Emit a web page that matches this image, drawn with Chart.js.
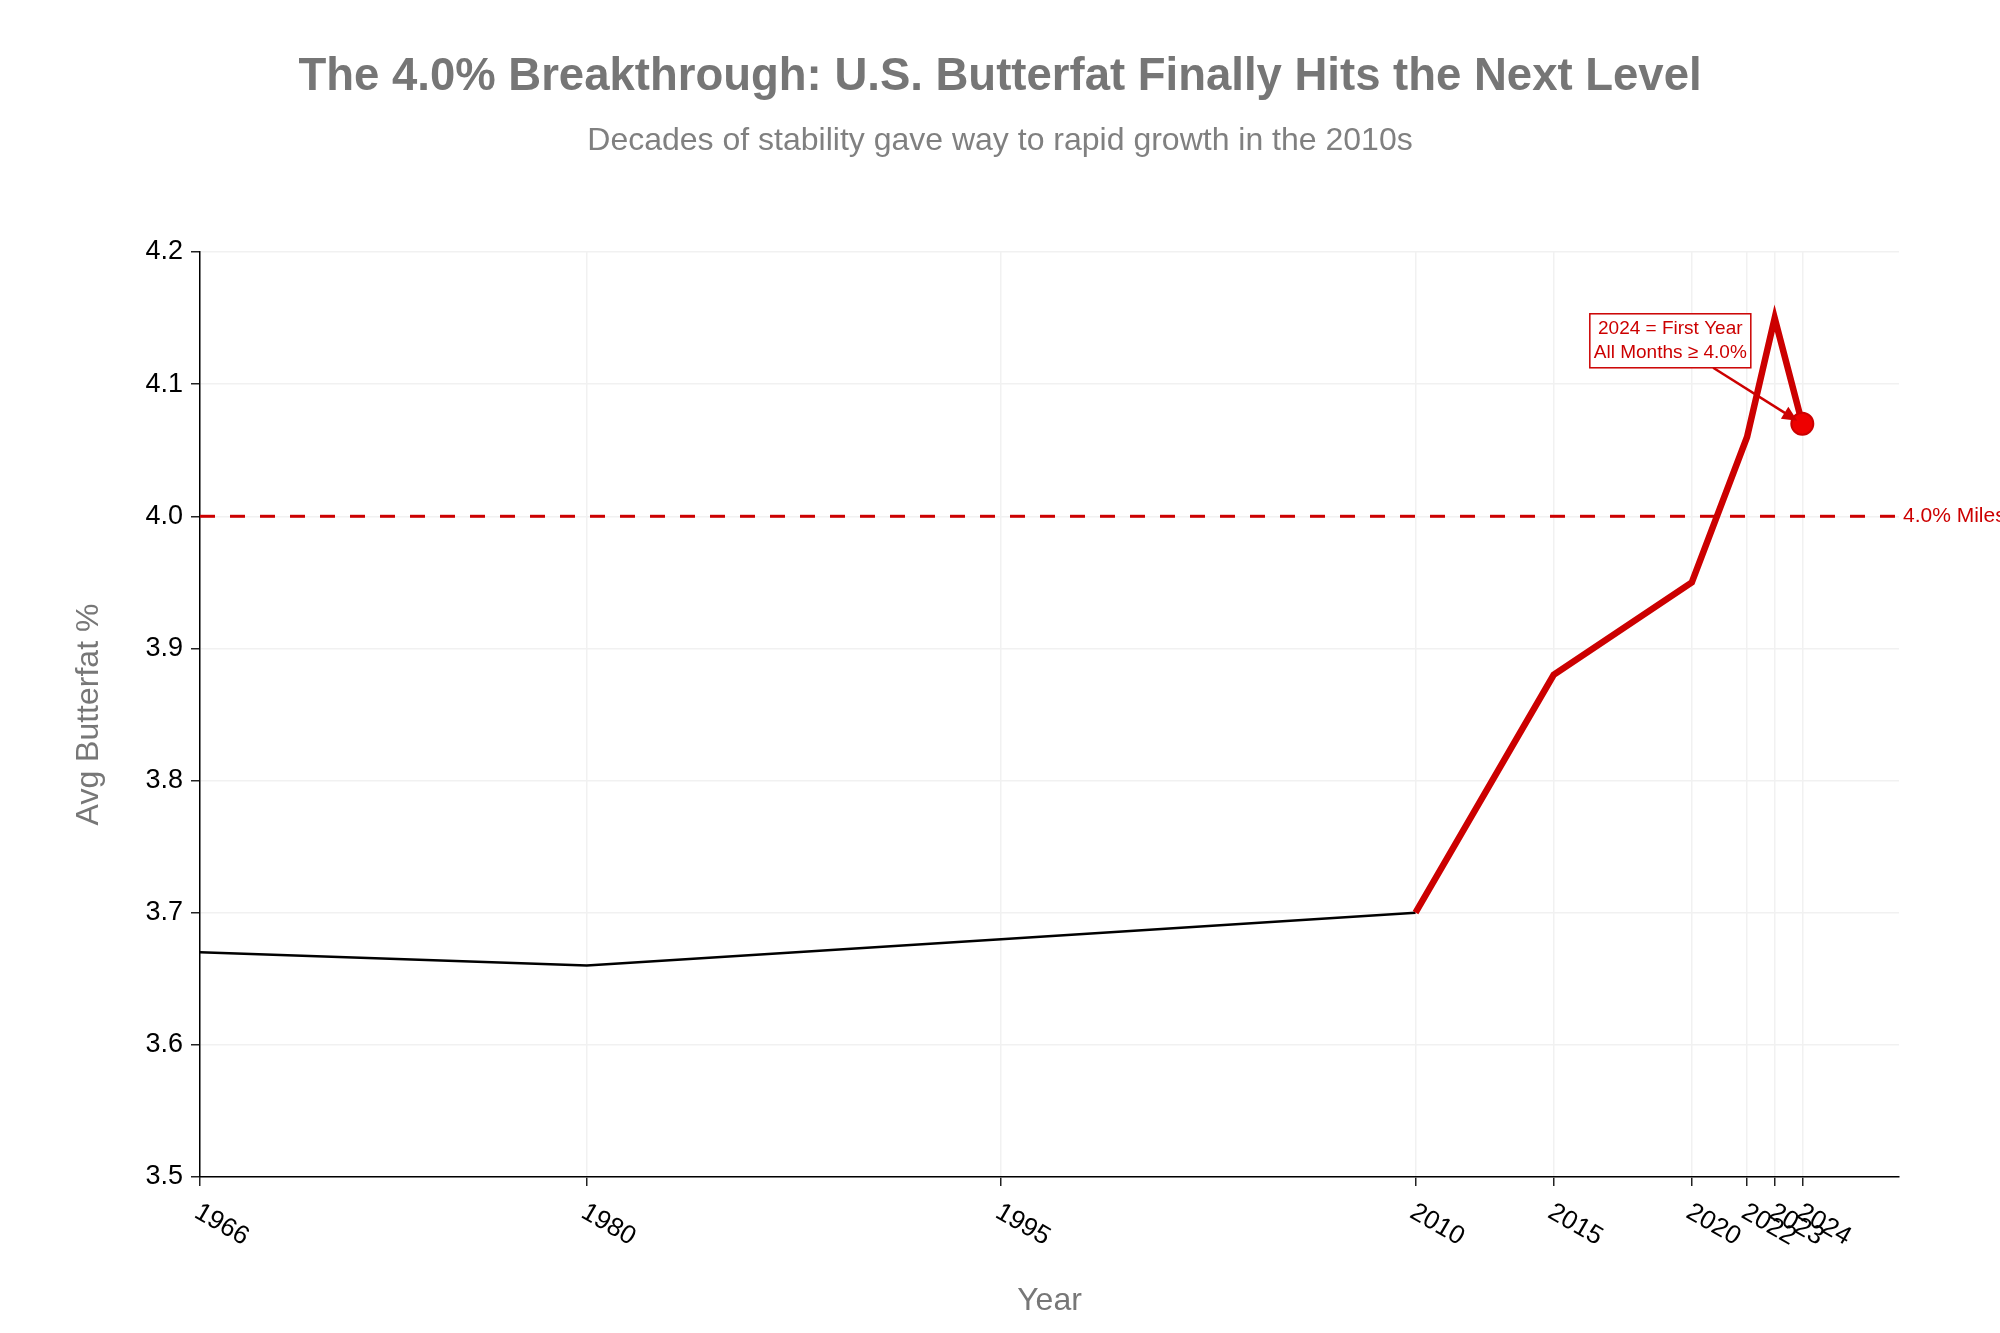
<!DOCTYPE html>
<html>
<head>
<meta charset="utf-8">
<script src="https://cdn.jsdelivr.net/npm/chart.js@4.4.1/dist/chart.umd.min.js"></script>
<style>
  html, body { margin: 0; padding: 0; background: #fff; }
  #chart { display: block; }
</style>
</head>
<body>
<canvas id="chart" width="2000" height="1333"></canvas>
<script>
// historical years (thin black line)
const histYears = [1966, 1980, 1995, 2010];
const histFat = [3.67, 3.66, 3.68, 3.70];
// recent years (thick red line)
const recentYears = [2010, 2015, 2020, 2022, 2023, 2024];
const recentFat = [3.70, 3.88, 3.95, 4.06, 4.15, 4.07];
// highlighted year
const highlightYear = 2024;
const highlightFat = 4.07;
// axis ticks
const xTicks = [1966, 1980, 1995, 2010, 2015, 2020, 2022, 2023, 2024];
const yTicks = [3.5, 3.6, 3.7, 3.8, 3.9, 4.0, 4.1, 4.2];
const milestone = 4.0;
const milestoneLabel = '4.0% Milestone';
const noteLines = ['2024 = First Year', 'All Months \u2265 4.0%'];
const titleText = 'The 4.0% Breakthrough: U.S. Butterfat Finally Hits the Next Level';
const subtitleText = 'Decades of stability gave way to rapid growth in the 2010s';

const FONT = '"Liberation Sans", Arial, Helvetica, sans-serif';
const RED = '#cc0000';

function pairs(xs, ys) {
    let out = [];
    for (let i in xs) out.push({x: xs[i], y: ys[i]});
    return out;
}

// title + subtitle centred on the whole canvas
const headerPlugin = {
    id: 'header',
    afterDraw(chart) {
        const ctx = chart.ctx;
        const cx = chart.width / 2;
        ctx.save();
        ctx.textAlign = 'center';
        ctx.textBaseline = 'middle';
        ctx.fillStyle = '#767676';
        ctx.font = 'bold 45.5px ' + FONT;
        ctx.fillText(titleText, cx, 77);
        ctx.fillStyle = '#808080';
        ctx.font = '32px ' + FONT;
        ctx.fillText(subtitleText, cx, 141);
        ctx.restore();
    }
};

// dashed milestone line + label
const milestonePlugin = {
    id: 'milestone',
    beforeDatasetsDraw(chart) {
        const ctx = chart.ctx;
        const area = chart.chartArea;
        const y = chart.scales.y.getPixelForValue(milestone);
        ctx.save();
        ctx.strokeStyle = RED;
        ctx.lineWidth = 3;
        ctx.setLineDash([15, 15]);
        ctx.beginPath();
        ctx.moveTo(area.left, y);
        ctx.lineTo(area.right, y);
        ctx.stroke();
        ctx.restore();
    },
    afterDraw(chart) {
        const ctx = chart.ctx;
        const y = chart.scales.y.getPixelForValue(milestone);
        ctx.save();
        ctx.fillStyle = RED;
        ctx.font = '21px ' + FONT;
        ctx.textAlign = 'left';
        ctx.textBaseline = 'middle';
        ctx.fillText(milestoneLabel, chart.chartArea.right + 4, y);
        ctx.restore();
    }
};

// rotated x tick labels (going down to the right)
const xLabelPlugin = {
    id: 'xLabels',
    afterDraw(chart) {
        const ctx = chart.ctx;
        const xs = chart.scales.x;
        const top = chart.chartArea.bottom + 22;
        ctx.save();
        ctx.fillStyle = '#000';
        ctx.font = '26px ' + FONT;
        ctx.textAlign = 'left';
        ctx.textBaseline = 'top';
        for (let v of xTicks) {
            const px = xs.getPixelForValue(v);
            ctx.save();
            ctx.translate(px + 3, top);
            ctx.rotate(30 * Math.PI / 180);
            ctx.fillText(String(v), 0, 0);
            ctx.restore();
        }
        ctx.restore();
    }
};

// boxed note with arrow pointing at the highlighted year
const notePlugin = {
    id: 'note',
    afterDatasetsDraw(chart) {
        const ctx = chart.ctx;
        const px = chart.scales.x.getPixelForValue(highlightYear);
        const py = chart.scales.y.getPixelForValue(highlightFat);

        ctx.save();
        ctx.font = '19px ' + FONT;
        let w = 0;
        for (let l of noteLines) w = Math.max(w, ctx.measureText(l).width);
        const boxW = w + 8;
        const lineH = 24;
        const boxH = lineH * noteLines.length + 6;
        const cx = px - 132;
        const cy = py - 83;
        const bx = cx - boxW / 2;
        const by = cy - boxH / 2;

        // arrow from box edge to point
        const hx = px - 5, hy = py - 3;
        const dx = hx - cx, dy = hy - cy;
        const t = (boxH / 2) / dy;
        const tx = cx + dx * t, ty = cy + dy * t;
        const ang = Math.atan2(hy - ty, hx - tx);
        const headL = 15, headW = 7;
        ctx.strokeStyle = RED;
        ctx.fillStyle = RED;
        ctx.lineWidth = 2.5;
        ctx.beginPath();
        ctx.moveTo(tx, ty);
        ctx.lineTo(hx - Math.cos(ang) * headL * 0.8, hy - Math.sin(ang) * headL * 0.8);
        ctx.stroke();
        ctx.beginPath();
        ctx.moveTo(hx, hy);
        ctx.lineTo(hx - Math.cos(ang) * headL - Math.sin(ang) * headW, hy - Math.sin(ang) * headL + Math.cos(ang) * headW);
        ctx.lineTo(hx - Math.cos(ang) * headL + Math.sin(ang) * headW, hy - Math.sin(ang) * headL - Math.cos(ang) * headW);
        ctx.closePath();
        ctx.fill();

        // box
        ctx.fillStyle = '#fff';
        ctx.fillRect(bx, by, boxW, boxH);
        ctx.lineWidth = 1.5;
        ctx.strokeRect(bx, by, boxW, boxH);
        ctx.fillStyle = RED;
        ctx.textAlign = 'center';
        ctx.textBaseline = 'middle';
        for (let i = 0; i < noteLines.length; i++) {
            ctx.fillText(noteLines[i], cx, by + 3 + lineH * (i + 0.5));
        }
        ctx.restore();
    }
};

Chart.defaults.font.family = FONT;

new Chart(document.getElementById('chart'), {
    type: 'line',
    data: {
        datasets: [
            {
                label: 'historical',
                data: pairs(histYears, histFat),
                borderColor: '#000',
                borderWidth: 2.5,
                pointRadius: 0,
                tension: 0,
                order: 3
            },
            {
                label: 'recent',
                data: pairs(recentYears, recentFat),
                borderColor: RED,
                borderWidth: 6.5,
                pointRadius: 0,
                tension: 0,
                borderJoinStyle: 'miter',
                order: 2
            },
            {
                label: 'highlight',
                data: [{x: highlightYear, y: highlightFat}],
                showLine: false,
                pointRadius: 11,
                pointBackgroundColor: '#ee0000',
                pointBorderColor: RED,
                pointBorderWidth: 2,
                order: 1
            }
        ]
    },
    options: {
        responsive: false,
        animation: false,
        devicePixelRatio: 1,
        layout: { padding: { left: 0, right: 101, top: 252, bottom: 0 } },
        plugins: {
            legend: { display: false },
            tooltip: { enabled: false },
            title: { display: false },
            subtitle: { display: false }
        },
        scales: {
            x: {
                type: 'linear',
                min: 1966,
                max: 2027.5,
                afterBuildTicks(scale) {
                    scale.ticks = xTicks.map(v => ({ value: v }));
                },
                afterFit(scale) {
                    scale.height = 1333 - 1177;
                },
                ticks: { display: false },
                grid: {
                    color: '#f1f1f1',
                    lineWidth: 1.5,
                    tickColor: '#222',
                    tickLength: 9,
                    tickWidth: 1.5
                },
                border: { color: '#000', width: 1.5 },
                title: {
                    display: true,
                    text: 'Year',
                    color: '#777',
                    font: { size: 32, family: FONT },
                    padding: { top: 0, bottom: 13 }
                }
            },
            y: {
                type: 'linear',
                min: 3.5,
                max: 4.2,
                afterBuildTicks(scale) {
                    scale.ticks = yTicks.map(v => ({ value: v }));
                },
                afterFit(scale) {
                    scale.width = 200;
                },
                ticks: {
                    color: '#000',
                    font: { size: 27, family: FONT },
                    padding: 8,
                    callback: v => Number(v).toFixed(1)
                },
                grid: {
                    color: '#f1f1f1',
                    lineWidth: 1.5,
                    tickColor: '#222',
                    tickLength: 9,
                    tickWidth: 1.5
                },
                border: { color: '#000', width: 1.5 },
                title: {
                    display: true,
                    text: 'Avg Butterfat %',
                    color: '#777',
                    font: { size: 32, family: FONT },
                    padding: { top: 70, bottom: 0 }
                }
            }
        }
    },
    plugins: [headerPlugin, milestonePlugin, xLabelPlugin, notePlugin]
});
</script>
</body>
</html>
